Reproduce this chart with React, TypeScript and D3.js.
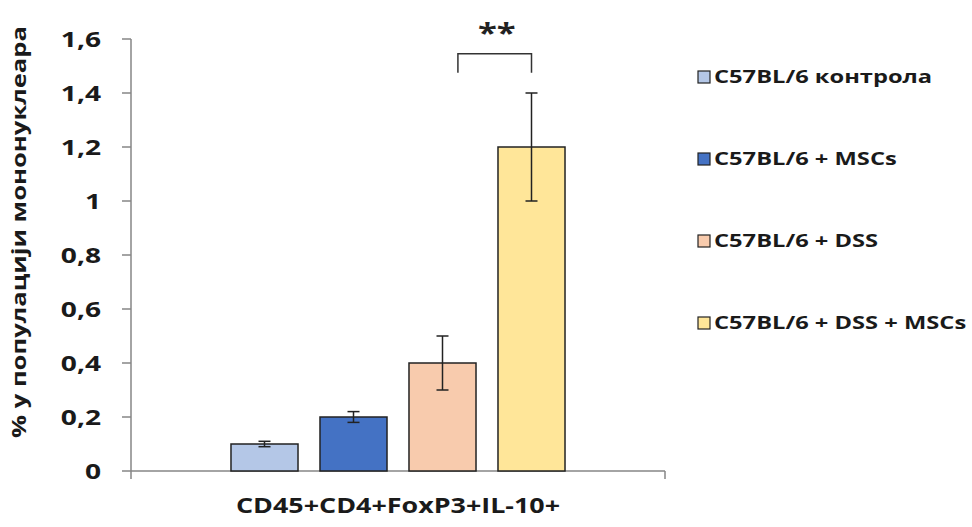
import React from "react";
import * as d3 from "d3";

const categories = ["CD45+CD4+FoxP3+IL-10+"];
const seriesNames = ["C57BL/6 контрола", "C57BL/6 + MSCs", "C57BL/6 + DSS", "C57BL/6 + DSS + MSCs"];
const seriesValues = [0.1, 0.2, 0.4, 1.2];
const seriesErrors = [0.01, 0.02, 0.1, 0.2];
const seriesColors = ["#B4C7E7", "#4472C4", "#F8CBAD", "#FFE699"];
const yTicks = [0, 0.2, 0.4, 0.6, 0.8, 1, 1.2, 1.4, 1.6];
const yTitle = "% у популацији мононуклеара";
const significance = "**";

const W = 972;
const H = 527;
const SX = 1.28;
const FONT = "'Open Sans', sans-serif";

export default function App() {
  const x0 = d3.scaleBand<string>().domain(categories).range([131, 665]).paddingInner(0).paddingOuter(0);
  const x1 = d3.scaleBand<string>().domain(seriesNames).range([0, x0.bandwidth()]).paddingInner(0.247).paddingOuter(1.1235);
  const y = d3.scaleLinear().domain([0, 1.6]).range([471, 39]);
  const loc = d3.formatLocale({ decimal: ",", thousands: ".", grouping: [3], currency: ["", ""] });
  const fmt = loc.format("~g");
  const axisColor = "#868686";
  const cat = categories[0];
  const bx = (i: number) => (x0(cat) as number) + (x1(seriesNames[i]) as number);
  const bw = x1.bandwidth();

  const brLeft = bx(2) + bw * 0.73;
  const brRight = bx(3) + bw / 2;

  const stretched = (x: number, yy: number, txt: string, size: number, anchor: string, extra: any = {}) => (
    <g transform={`translate(${x},${yy}) scale(${SX},1)`}>
      <text x={0} y={0} fontFamily={FONT} fontWeight={700} fontSize={size} textAnchor={anchor} fill="#1a1a1a" {...extra}>
        {txt}
      </text>
    </g>
  );

  return (
    <svg width={W} height={H} style={{ position: "absolute", left: 0, top: 0, background: "#fff" }}>
      <rect x={0} y={0} width={W} height={H} fill="#fff" />
      {/* y axis */}
      <line x1={131} x2={131} y1={y(1.6)} y2={y(0)} stroke={axisColor} strokeWidth={1.5} />
      {yTicks.map((t) => (
        <g key={t}>
          <line x1={122} x2={131} y1={y(t)} y2={y(t)} stroke={axisColor} strokeWidth={1.5} />
          {stretched(101, y(t), fmt(t), 22, "end", { dy: "0.35em" })}
        </g>
      ))}
      {/* x axis */}
      <line x1={131} x2={665} y1={y(0)} y2={y(0)} stroke={axisColor} strokeWidth={1.5} />
      <line x1={131} x2={131} y1={y(0)} y2={y(0) + 8} stroke={axisColor} strokeWidth={1.5} />
      <line x1={665} x2={665} y1={y(0)} y2={y(0) + 8} stroke={axisColor} strokeWidth={1.5} />
      {stretched((x0(cat) as number) + x0.bandwidth() / 2, 513, cat, 21, "middle")}
      {/* y title */}
      <g transform={`translate(26,232) rotate(-90) scale(${SX},1)`}>
        <text x={0} y={0} fontFamily={FONT} fontWeight={700} fontSize={20} textAnchor="middle" fill="#1a1a1a">
          {yTitle}
        </text>
      </g>
      {/* bars */}
      {seriesValues.map((v, i) => (
        <rect key={i} x={bx(i)} y={y(v)} width={bw} height={y(0) - y(v)} fill={seriesColors[i]} stroke="#222" strokeWidth={1.5} />
      ))}
      {/* error bars */}
      {seriesValues.map((v, i) => {
        const cx = bx(i) + bw / 2;
        const hi = y(v + seriesErrors[i]);
        const lo = y(v - seriesErrors[i]);
        return (
          <g key={i} stroke="#222" strokeWidth={1.5}>
            <line x1={cx} x2={cx} y1={hi} y2={lo} />
            <line x1={cx - 6} x2={cx + 6} y1={hi} y2={hi} />
            <line x1={cx - 6} x2={cx + 6} y1={lo} y2={lo} />
          </g>
        );
      })}
      {/* significance bracket */}
      <path d={`M${brLeft},${y(1.475)} V${y(1.545)} H${brRight} V${y(1.475)}`} fill="none" stroke="#333" strokeWidth={1.5} />
      {stretched((brLeft + brRight) / 2 + 2, 42, significance, 27, "middle", { fill: "#222" })}
      {/* legend */}
      {seriesNames.map((s, i) => {
        const cy = 77 + i * 82;
        return (
          <g key={s}>
            <rect x={698} y={cy - 6} width={12} height={12} fill={seriesColors[i]} stroke="#222" strokeWidth={1.2} />
            {stretched(714, cy, s, 18.5, "start", { dy: "0.35em" })}
          </g>
        );
      })}
    </svg>
  );
}
